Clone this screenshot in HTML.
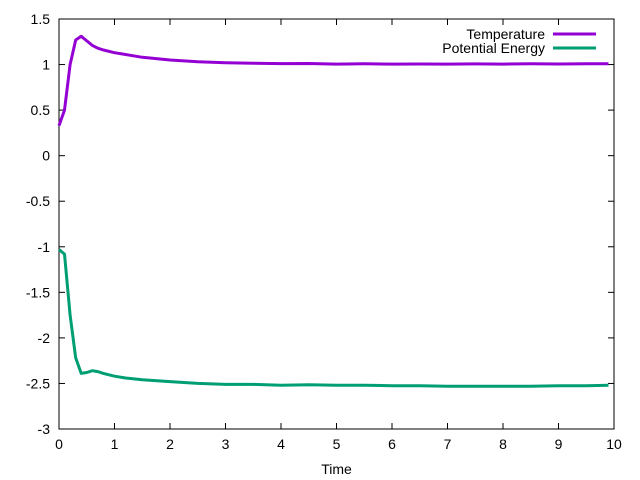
<!DOCTYPE html>
<html><head><meta charset="utf-8"><style>
html,body{margin:0;padding:0;background:#fff}
svg{display:block;font-family:"Liberation Sans",sans-serif}
</style></head><body>
<svg id="chart" width="640" height="480" viewBox="0 0 640 480" xmlns="http://www.w3.org/2000/svg">
<g id="axes"></g>
<g id="series"></g>
<g id="legend"></g>
</svg>
<script>
const xTicks=[0,1,2,3,4,5,6,7,8,9,10];
const yTicks=[1.5,1,0.5,0,-0.5,-1,-1.5,-2,-2.5,-3];
const yTickLabels=["1.5","1","0.5","0","-0.5","-1","-1.5","-2","-2.5","-3"];
const timeValues=[0,0.1,0.2,0.3,0.4,0.5,0.6,0.7,0.8,1.0,1.2,1.5,2.0,2.5,3.0,3.5,4.0,4.5,5.0,5.5,6.0,6.5,7.0,7.5,8.0,8.5,9.0,9.5,9.9];
const temperature=[0.33,0.5,1.0,1.27,1.31,1.26,1.21,1.18,1.16,1.13,1.11,1.08,1.05,1.03,1.02,1.015,1.01,1.012,1.005,1.008,1.005,1.006,1.005,1.007,1.005,1.008,1.006,1.008,1.008];
const potentialEnergy=[-1.03,-1.08,-1.75,-2.22,-2.39,-2.38,-2.36,-2.37,-2.39,-2.42,-2.44,-2.46,-2.48,-2.50,-2.51,-2.51,-2.52,-2.515,-2.52,-2.52,-2.525,-2.525,-2.53,-2.53,-2.53,-2.53,-2.525,-2.525,-2.52];
const seriesNames=["Temperature","Potential Energy"];
const seriesColors=["#9400d3","#009e73"];

const L=59,R=614,T=19,B=429;
const xs=v=>L+(v-0)/10*(R-L);
const ys=v=>T+(1.5-v)/4.5*(B-T);
const NS="http://www.w3.org/2000/svg";
function mk(tag,attrs,parent){const e=document.createElementNS(NS,tag);for(const k in attrs)e.setAttribute(k,attrs[k]);parent.appendChild(e);return e;}
const axes=document.getElementById('axes');
xTicks.forEach(t=>{
  const x=xs(t);
  const a=mk('line',{x1:x,y1:B,x2:x,y2:B-6,stroke:'#000','stroke-width':1},axes);
  
  
  const b=mk('line',{x1:x,y1:T,x2:x,y2:T+6,stroke:'#000','stroke-width':1},axes);
  
  
  const tx=mk('text',{x:x,y:B+20,'text-anchor':'middle','font-size':14,fill:'#000'},axes);
  tx.textContent=String(t);
  
  
});
yTicks.forEach((t,i)=>{
  const y=ys(t);
  const a=mk('line',{x1:L,y1:y,x2:L+6,y2:y,stroke:'#000','stroke-width':1},axes);
  
  
  const b=mk('line',{x1:R,y1:y,x2:R-6,y2:y,stroke:'#000','stroke-width':1},axes);
  
  
  const tx=mk('text',{x:L-9,y:y+5,'text-anchor':'end','font-size':14,fill:'#000'},axes);
  tx.textContent=yTickLabels[i];
  
  
});
const frame=mk('rect',{x:L,y:T,width:R-L,height:B-T,fill:'none',stroke:'#000','stroke-width':1},axes);


const xt=mk('text',{x:(L+R)/2,y:474,'text-anchor':'middle','font-size':14,fill:'#000'},axes);
xt.textContent='Time';



const ser=document.getElementById('series');
[temperature,potentialEnergy].forEach((arr,si)=>{
  const d=arr.map((v,i)=>(i?'L':'M')+xs(timeValues[i]).toFixed(1)+','+ys(v).toFixed(1)).join(' ');
  const p=mk('path',{d:d,fill:'none',stroke:seriesColors[si],'stroke-width':3,'stroke-linejoin':'round'},ser);
  
  
});
const leg=document.getElementById('legend');
seriesNames.forEach((n,i)=>{
  const y=34+i*14;
  const t=mk('text',{x:545,y:y+5,'text-anchor':'end','font-size':14,fill:'#000'},leg);
  t.textContent=n;
  
  
  const l=mk('line',{x1:553,y1:y,x2:596,y2:y,stroke:seriesColors[i],'stroke-width':3},leg);
  
  
});
</script>
</body></html>
